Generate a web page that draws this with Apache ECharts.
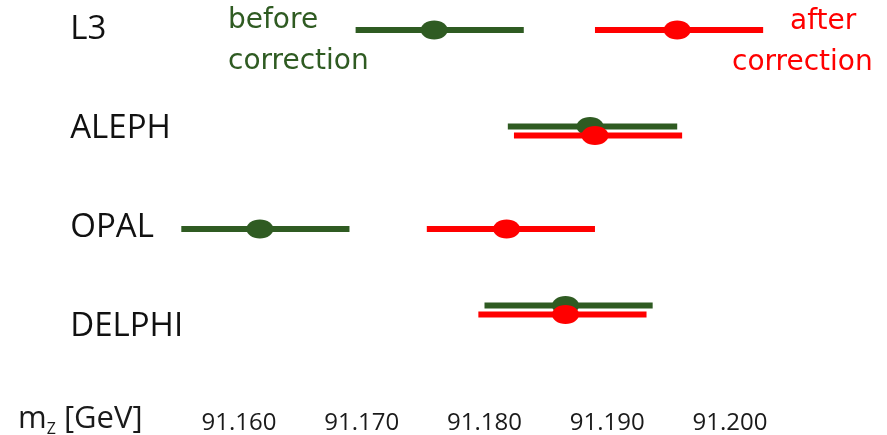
<!DOCTYPE html>
<html>
<head>
<meta charset="utf-8">
<title>Z mass by LEP experiment</title>
<script src="https://cdn.jsdelivr.net/npm/echarts@6/dist/echarts.min.js"></script>
<style>
  html, body { margin: 0; padding: 0; background: #ffffff; }
  #chart { width: 887px; height: 435px; }
</style>
</head>
<body>
<div id="chart"></div>
<script>
// Z boson mass per LEP experiment (GeV), before and after the correction
const experiments = ['L3', 'ALEPH', 'OPAL', 'DELPHI'];

const beforeCentral = [91.1759, 91.1886, 91.1617, 91.1866];
const beforeLow     = [91.1695, 91.1819, 91.1553, 91.1800];
const beforeHigh    = [91.1832, 91.1957, 91.1690, 91.1937];

const afterCentral  = [91.1957, 91.1890, 91.1818, 91.1866];
const afterLow      = [91.1890, 91.1824, 91.1753, 91.1795];
const afterHigh     = [91.2027, 91.1961, 91.1890, 91.1932];

const tickLabels = ['91.160', '91.170', '91.180', '91.190', '91.200'];

const GREEN = '#2f5b22';
const RED = '#ff0000';

function rows(low, central, high) {
  return experiments.map((name, i) => [i, low[i], central[i], high[i]]);
}

function overlaps(i) {
  return Math.max(beforeLow[i], afterLow[i]) < Math.min(beforeHigh[i], afterHigh[i]);
}

// small vertical nudges of the bars relative to their row labels
const rowShift = { ALEPH: 2, OPAL: 1, DELPHI: -17 };

function errorBar(color, side) {
  return function (params, api) {
    const i = api.value(0);
    const lo = api.coord([api.value(1), i]);
    const mid = api.coord([api.value(2), i]);
    const hi = api.coord([api.value(3), i]);
    const dy = (overlaps(i) ? side * 4.5 : 0) + (rowShift[experiments[i]] || 0);
    const y = mid[1] + dy;
    return {
      type: 'group',
      children: [
        {
          type: 'line',
          shape: { x1: lo[0], y1: y, x2: hi[0], y2: y },
          style: { stroke: color, lineWidth: 6, lineCap: 'butt' }
        },
        {
          type: 'ellipse',
          shape: { cx: mid[0], cy: y, rx: 13.5, ry: 9.5 },
          style: { fill: color }
        }
      ]
    };
  };
}

const chart = echarts.init(document.getElementById('chart'), null, { renderer: 'canvas' });

chart.setOption({
  backgroundColor: '#ffffff',
  animation: false,
  title: {
    text: '{m|m}{sub|Z}{m| [GeV]}',
    left: 18,
    top: 401,
    padding: 0,
    textStyle: {
      fontWeight: 'normal',
      rich: {
        m: { fontFamily: 'Open Sans', fontWeight: 'normal', fontSize: 31, color: '#1a1a1a', lineHeight: 36 },
        sub: { fontFamily: 'Open Sans', fontWeight: 'normal', fontSize: 16, color: '#1a1a1a', verticalAlign: 'bottom', lineHeight: 36 }
      }
    }
  },
  grid: { left: 116.25, right: 34.25, top: 30, bottom: 107 },
  xAxis: {
    type: 'value',
    min: 91.15,
    max: 91.21,
    interval: 0.01,
    axisLine: { show: false },
    axisTick: { show: false },
    splitLine: { show: false },
    axisLabel: {
      margin: 84,
      fontFamily: 'Open Sans',
      fontSize: 24,
      color: '#1a1a1a',
      formatter: function (v) {
        const s = v.toFixed(3);
        return tickLabels.indexOf(s) >= 0 ? s : '';
      }
    }
  },
  yAxis: {
    type: 'category',
    data: experiments,
    inverse: true,
    boundaryGap: false,
    axisLine: { show: false },
    axisTick: { show: false },
    splitLine: { show: false },
    axisLabel: {
      align: 'left',
      margin: 46,
      fontFamily: 'Open Sans',
      fontSize: 33,
      color: '#111111'
    }
  },
  graphic: [
    { type: 'text', x: 228, y: 21, style: { text: 'before', font: '28px "DejaVu Sans"', fill: GREEN, textVerticalAlign: 'middle' } },
    { type: 'text', x: 228, y: 62, style: { text: 'correction', font: '28px "DejaVu Sans"', fill: GREEN, textVerticalAlign: 'middle' } },
    { type: 'text', x: 790, y: 22, style: { text: 'after', font: '28px "DejaVu Sans"', fill: RED, textVerticalAlign: 'middle' } },
    { type: 'text', x: 732, y: 63, style: { text: 'correction', font: '28px "DejaVu Sans"', fill: RED, textVerticalAlign: 'middle' } }
  ],
  series: [
    {
      name: 'before correction',
      type: 'custom',
      renderItem: errorBar(GREEN, -1),
      encode: { x: [1, 2, 3], y: 0 },
      data: rows(beforeLow, beforeCentral, beforeHigh),
      clip: false,
      z: 2
    },
    {
      name: 'after correction',
      type: 'custom',
      renderItem: errorBar(RED, 1),
      encode: { x: [1, 2, 3], y: 0 },
      data: rows(afterLow, afterCentral, afterHigh),
      clip: false,
      z: 3
    }
  ]
});
</script>
</body>
</html>
